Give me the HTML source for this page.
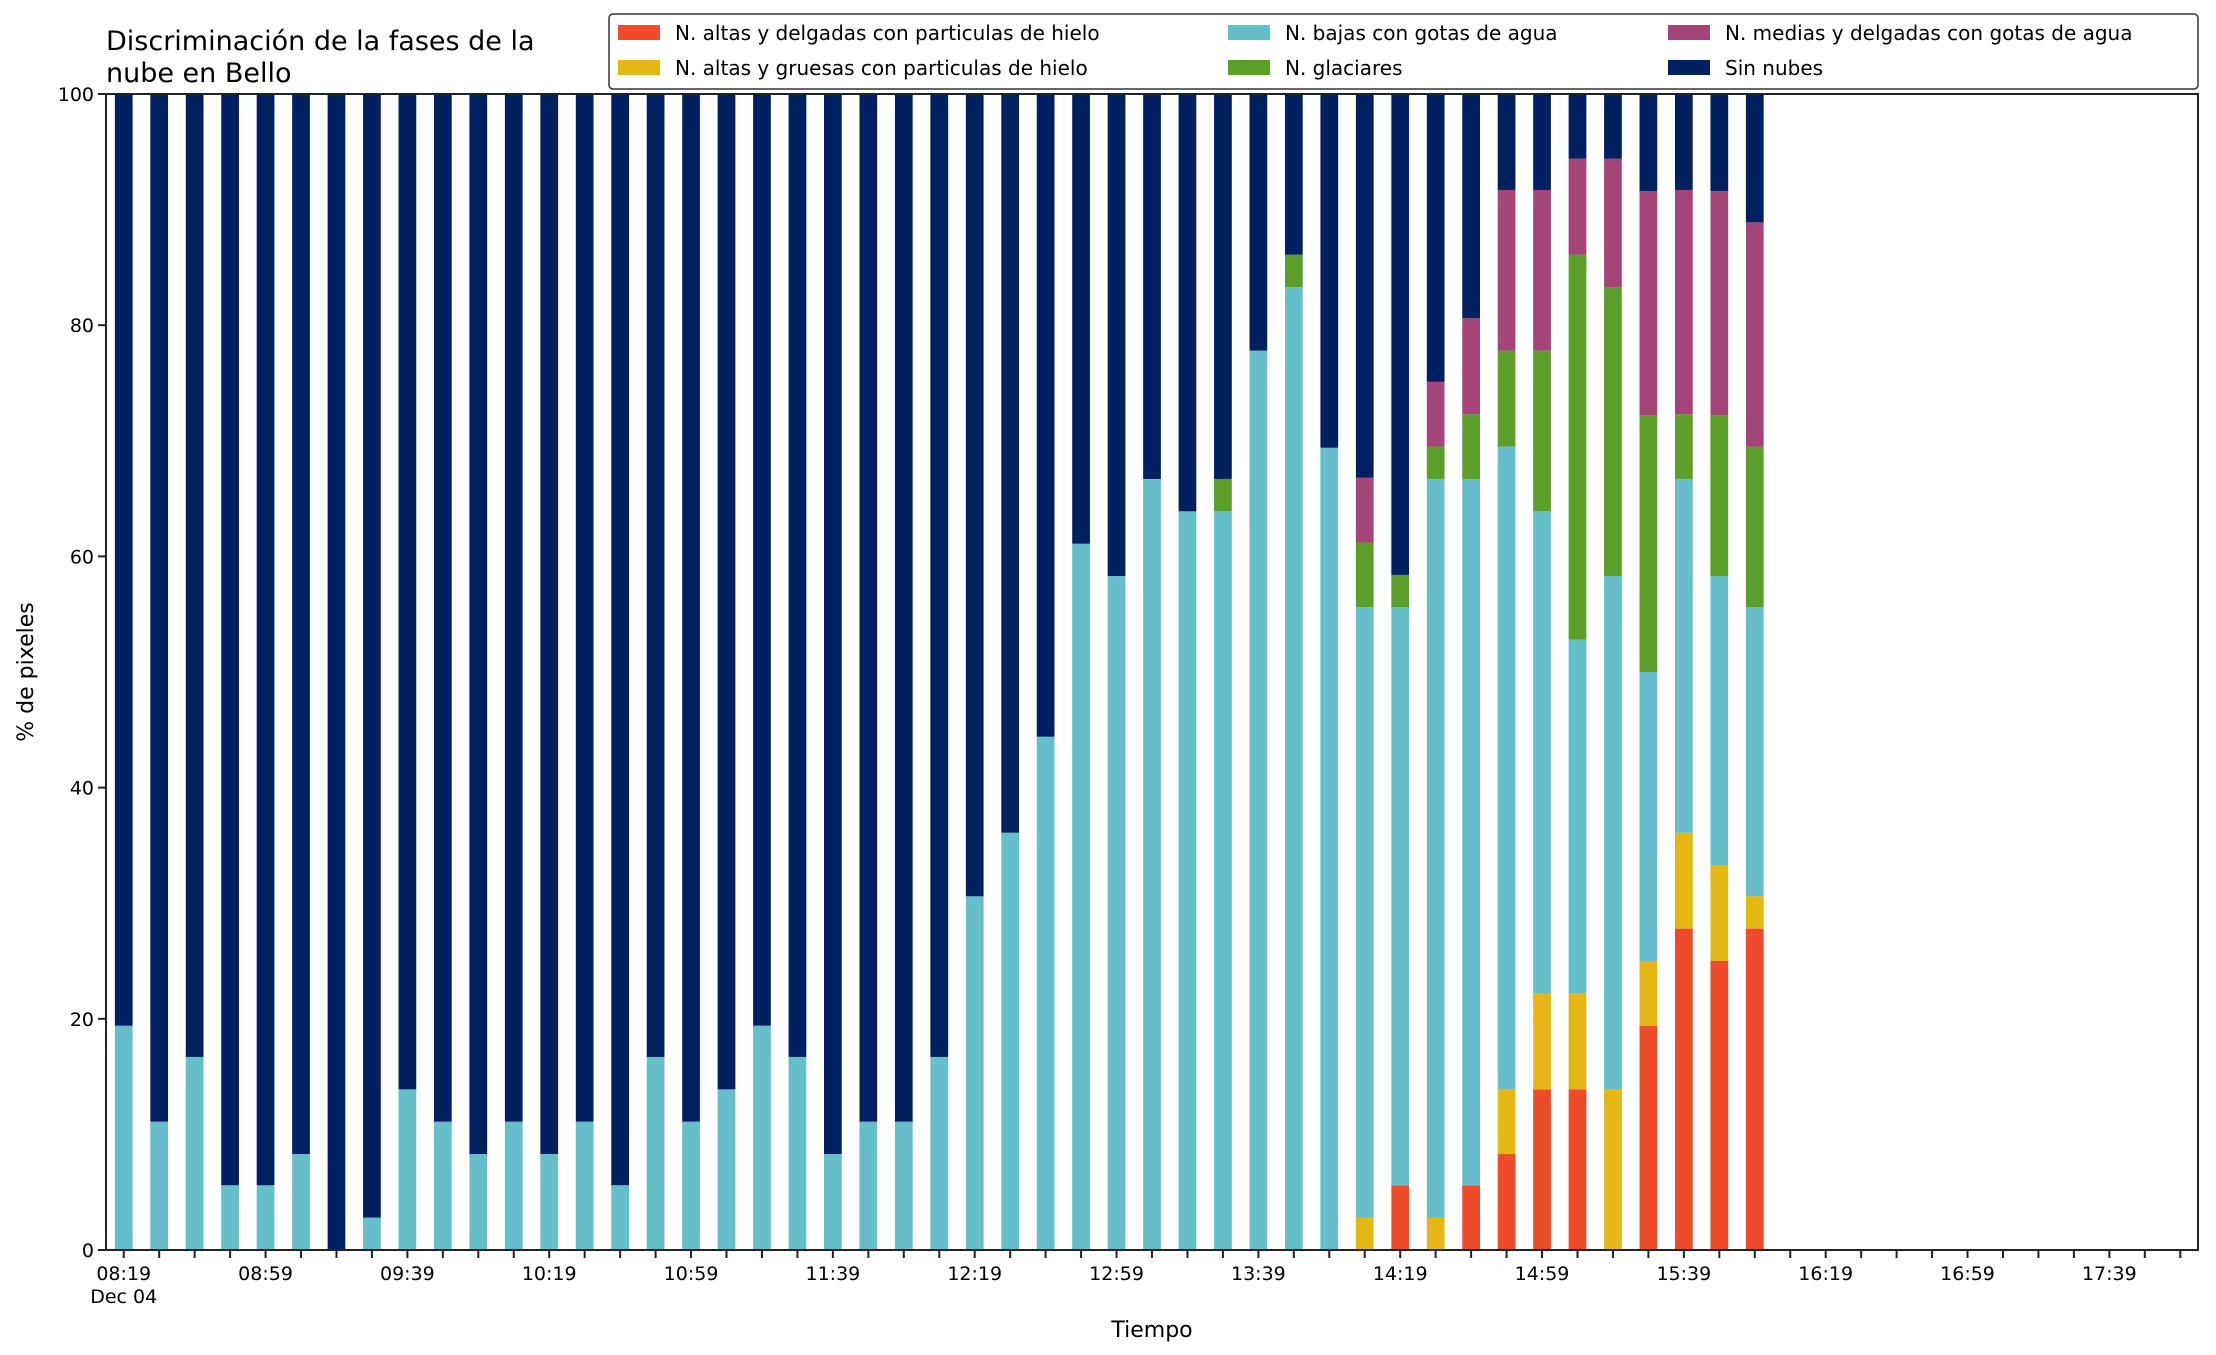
<!DOCTYPE html>
<html><head><meta charset="utf-8"><style>
html,body{margin:0;padding:0;background:#fff;}
svg{display:block;font-family:"DejaVu Sans","Liberation Sans",sans-serif;}
</style></head><body>
<svg id="chart" width="2216" height="1355" viewBox="0 0 2216 1355" xmlns="http://www.w3.org/2000/svg">
<rect width="2216" height="1355" fill="#fff"/>
<text x="106" y="50" font-size="27" fill="#000">Discriminación de la fases de la</text>
<text x="106" y="82" font-size="27" fill="#000">nube en Bello</text>
<g id="bars"></g>
<g id="axes"></g>
<text x="1152" y="1337" font-size="22" text-anchor="middle">Tiempo</text>
<text transform="translate(33,672) rotate(-90)" font-size="22" text-anchor="middle">% de pixeles</text>
<g id="legend"></g>
</svg>
<script>
const categories = ["08:19","08:29","08:39","08:49","08:59","09:09","09:19","09:29","09:39","09:49","09:59","10:09","10:19","10:29","10:39","10:49","10:59","11:09","11:19","11:29","11:39","11:49","11:59","12:09","12:19","12:29","12:39","12:49","12:59","13:09","13:19","13:29","13:39","13:49","13:59","14:09","14:19","14:29","14:39","14:49","14:59","15:09","15:19","15:29","15:39","15:49","15:59","16:09","16:19","16:29","16:39","16:49","16:59","17:09","17:19","17:29","17:39","17:49","17:59"];
const redAltasDelgadas = [0,0,0,0,0,0,0,0,0,0,0,0,0,0,0,0,0,0,0,0,0,0,0,0,0,0,0,0,0,0,0,0,0,0,0,0,5.6,0,5.6,8.3,13.9,13.9,0,19.4,27.8,25,27.8];
const yellowAltasGruesas = [0,0,0,0,0,0,0,0,0,0,0,0,0,0,0,0,0,0,0,0,0,0,0,0,0,0,0,0,0,0,0,0,0,0,0,2.8,0,2.8,0,5.6,8.3,8.3,13.9,5.6,8.3,8.3,2.8];
const cyanBajasAgua = [19.4,11.1,16.7,5.6,5.6,8.3,0,2.8,13.9,11.1,8.3,11.1,8.3,11.1,5.6,16.7,11.1,13.9,19.4,16.7,8.3,11.1,11.1,16.7,30.6,36.1,44.4,61.1,58.3,66.7,63.9,63.9,77.8,83.3,69.4,52.8,50,63.9,61.1,55.6,41.7,30.6,44.4,25,30.6,25,25];
const greenGlaciares = [0,0,0,0,0,0,0,0,0,0,0,0,0,0,0,0,0,0,0,0,0,0,0,0,0,0,0,0,0,0,0,2.8,0,2.8,0,5.6,2.8,2.8,5.6,8.3,13.9,33.3,25,22.2,5.6,13.9,13.9];
const purpleMediasAgua = [0,0,0,0,0,0,0,0,0,0,0,0,0,0,0,0,0,0,0,0,0,0,0,0,0,0,0,0,0,0,0,0,0,0,0,5.6,0,5.6,8.3,13.9,13.9,8.3,11.1,19.4,19.4,19.4,19.4];
const yTicks = [0,20,40,60,80,100];
const xLabelEvery = 4;

const seriesNames = ["N. altas y delgadas con particulas de hielo","N. altas y gruesas con particulas de hielo","N. bajas con gotas de agua","N. glaciares","N. medias y delgadas con gotas de agua","Sin nubes"];
const seriesColors = ["#ee4b2b","#e4b714","#65bec9","#5b9e2a","#a34577","#00205f"];

const NS="http://www.w3.org/2000/svg";
const L=106,R=2198,T=94,B=1250;
const n=categories.length, step=(R-L)/n, bw=step*0.5;
function xPos(i){return L+step*(i+0.5);}
function yPos(v){return B-(B-T)*v/100;}
function mk(tag,attrs,parent){const e=document.createElementNS(NS,tag);for(const k in attrs)e.setAttribute(k,attrs[k]);parent.appendChild(e);return e;}

const bars=document.getElementById('bars');
const seriesData=[redAltasDelgadas,yellowAltasGruesas,cyanBajasAgua,greenGlaciares,purpleMediasAgua];
const nData=cyanBajasAgua.length;
for(let i=0;i<nData;i++){
  let base=0;
  const vals=seriesData.map(s=>s[i]||0);
  const sum=vals.reduce((a,b)=>a+b,0);
  vals.push(Math.max(0,100-sum));
  for(let s=0;s<vals.length;s++){
    const v=vals[s]; if(v<=0){continue;}
    const r=mk('rect',{x:xPos(i)-bw/2,y:yPos(base+v),width:bw,height:yPos(base)-yPos(base+v),fill:seriesColors[s]},bars);
    
    
    base+=v;
  }
}

const axes=document.getElementById('axes');
const frame=mk('rect',{x:L,y:T,width:R-L,height:B-T,fill:'none',stroke:'#222','stroke-width':2},axes);


yTicks.forEach(v=>{
  const y=yPos(v);
  const tk=mk('line',{x1:L-8,x2:L,y1:y,y2:y,stroke:'#222','stroke-width':2},axes);
  
  
  const t=mk('text',{x:L-12,y:y+7,'font-size':19,'text-anchor':'end'},axes);
  t.textContent=v;
  
  
});
categories.forEach((c,i)=>{
  const x=xPos(i);
  const tk=mk('line',{x1:x,x2:x,y1:B,y2:B+8,stroke:'#222','stroke-width':2},axes);
  
  
  if(i%xLabelEvery===0){
    const t=mk('text',{x:x,y:B+30,'font-size':19,'text-anchor':'middle'},axes);
    t.textContent=c;
    
    
  }
});
const d=mk('text',{x:xPos(0),y:B+53,'font-size':19,'text-anchor':'middle'},axes);
d.textContent='Dec 04';



const lg=document.getElementById('legend');
const box=mk('rect',{x:609,y:14,width:1589,height:75,rx:4,fill:'#fff',stroke:'#333','stroke-width':1.5},lg);


const colX=[618,1228,1668], rowY=[33,68];
seriesNames.forEach((name,k)=>{
  const col=Math.floor(k/2), row=k%2;
  const sw=mk('rect',{x:colX[col],y:rowY[row]-8,width:42,height:15,fill:seriesColors[k]},lg);
  
  
  const t=mk('text',{x:colX[col]+57,y:rowY[row]+7,'font-size':20},lg);
  t.textContent=name;
  
  
});
</script>
</body></html>
